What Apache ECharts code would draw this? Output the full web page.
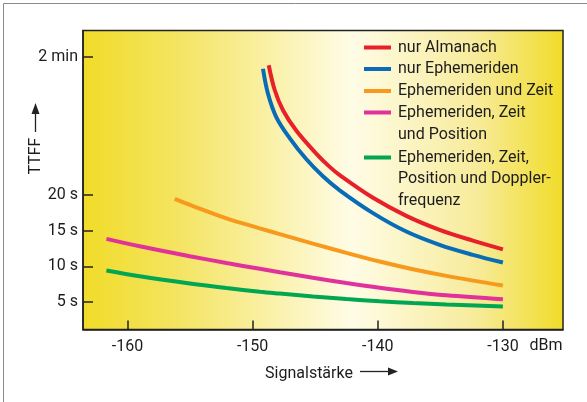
<!DOCTYPE html>
<html><head><meta charset="utf-8">
<script src="https://cdn.jsdelivr.net/npm/echarts@6/dist/echarts.min.js"></script>
<style>html,body{margin:0;padding:0;background:#fff}#c{width:587px;height:402px}</style>
</head><body><div id="c"></div>
<script>
// ---- data (x in dBm, TTFF in seconds) ----
const seriesNames = ['nur Almanach', 'nur Ephemeriden', 'Ephemeriden und Zeit', 'Ephemeriden, Zeit\nund Position', 'Ephemeriden, Zeit,\nPosition und Doppler-\nfrequenz'];
const xRed = [-148.71, -148.24, -147.57, -146.50, -144.90, -143.84, -143.04, -140.38, -137.72, -135.06, -132.40, -130];
const tRed = [114.07, 96.27, 81.38, 66.49, 49.78, 40.30, 34.30, 19.58, 17.06, 15.10, 13.59, 12.37];
const xBlue = [-149.17, -148.77, -148.10, -147.04, -145.70, -144.38, -143.04, -140.38, -137.72, -135.06, -132.40, -130];
const tBlue = [111.53, 93.37, 76.30, 61.19, 45.79, 33.44, 23.27, 17.44, 14.86, 13.00, 11.60, 10.52];
const xOrange = [-156.22, -154.76, -152.09, -149.43, -147.83, -145.18, -142.51, -139.85, -137.19, -134.52, -130];
const tOrange = [19.44, 18.43, 16.71, 15.31, 14.50, 13.17, 11.88, 10.66, 9.58, 8.66, 7.30];
const xMagenta = [-161.68, -159.02, -155.02, -152.09, -149.43, -147.83, -145.18, -142.51, -139.85, -137.19, -134.52, -130];
const tMagenta = [13.84, 12.80, 11.41, 10.46, 9.64, 9.16, 8.39, 7.66, 6.99, 6.41, 5.95, 5.39];
const xGreen = [-161.68, -159.02, -155.02, -152.09, -149.43, -147.83, -145.18, -142.51, -139.85, -137.19, -134.52, -130];
const tGreen = [9.40, 8.60, 7.59, 6.95, 6.44, 6.18, 5.77, 5.41, 5.11, 4.86, 4.65, 4.36];
const yTickSeconds = [5, 10, 15, 20, 120];
const yTickLabels = ['5 s', '10 s', '15 s', '20 s', '2 min'];
const xTicks = [-160, -150, -140, -130];

// broken TTFF axis: linear up to 20 s, compressed above
const f = t => t <= 20 ? t : 20 + (t - 20) * 0.1928;
const FONT = 'Roboto';
const FS = 16;
const INK = '#1c1c1c';
const colors = ['#e8202a', '#0a6cb6', '#f7991c', '#e0329a', '#00a651'];
const xs = [xRed, xBlue, xOrange, xMagenta, xGreen];
const ts = [tRed, tBlue, tOrange, tMagenta, tGreen];
const rowY = [47.5, 69, 91, 112.5, 157.5];

const chart = echarts.init(document.getElementById('c'));
const tickVals = yTickSeconds.map(f);
const txt = (s, x, y, align) => ({type: 'text', x: x, y: y, style: {text: s, font: FS + 'px "' + FONT + '"', fill: INK, align: align || 'left', verticalAlign: 'middle'}});
chart.setOption({
  animation: false,
  color: colors,
  grid: {left: 83, right: 24, top: 30.5, bottom: 72.5, show: true, borderColor: '#222', borderWidth: 1.5,
    backgroundColor: new echarts.graphic.LinearGradient(0, 0, 1, 0, [
      {offset: 0, color: '#f1dc28'}, {offset: 0.2, color: '#f4e462'}, {offset: 0.56, color: '#fffce6'},
      {offset: 0.82, color: '#f7eb9a'}, {offset: 1, color: '#f1dc28'}])},
  xAxis: {type: 'value', min: -163.55, max: -125.2,
    name: 'Signalstärke', nameLocation: 'middle', nameGap: 36, nameMoveOverlap: false,
    nameTextStyle: {fontFamily: FONT, fontSize: FS, color: INK, padding: [0, 28, 0, 0]},
    axisLine: {show: true, lineStyle: {color: '#222', width: 1.5}},
    axisTick: {show: true, inside: true, length: 9, customValues: xTicks, lineStyle: {color: '#222', width: 1.5}},
    axisLabel: {customValues: xTicks, margin: 9, fontFamily: FONT, fontSize: FS, color: INK, formatter: v => String(v)},
    splitLine: {show: false}},
  yAxis: {type: 'value', min: 1.15, max: 43.0,
    name: 'TTFF', nameLocation: 'middle', nameGap: 39, nameRotate: 90, nameMoveOverlap: false,
    nameTextStyle: {fontFamily: FONT, fontSize: FS, color: INK, padding: [0, 0, 0, 48]},
    axisLine: {show: true, lineStyle: {color: '#222', width: 1.5}},
    axisTick: {show: true, inside: true, length: 10, customValues: tickVals, lineStyle: {color: '#222', width: 1.5}},
    axisLabel: {customValues: tickVals, margin: 5, fontFamily: FONT, fontSize: FS, color: INK,
      formatter: v => { let i = tickVals.findIndex(t => Math.abs(t - v) < 1e-6); return i >= 0 ? yTickLabels[i] : ''; }},
    splitLine: {show: false}},
  legend: seriesNames.map((n, i) => ({
    data: [n], left: 364, top: rowY[i] - 10, padding: 0, orient: 'vertical', selectedMode: false,
    icon: 'rect', itemWidth: 27, itemHeight: 4,
    formatter: name => name.split('\n')[0],
    textStyle: {fontFamily: FONT, fontSize: FS, color: INK, lineHeight: 20, padding: [0, 0, 0, 2]}
  })),
  series: seriesNames.map((n, i) => ({
    name: n, type: 'line', smooth: 0.35, showSymbol: false, silent: true,
    lineStyle: {width: 4, color: colors[i], cap: 'butt'},
    data: xs[i].map((x, j) => [x, f(ts[i][j])])
  })),
  graphic: [
    {type: 'rect', shape: {x: 3.5, y: 3.5, width: 700, height: 500}, style: {fill: null, stroke: '#8a8a8a', lineWidth: 1}, z: -1},
    txt('und Position', 398, 134.5),
    txt('Position und Doppler-', 398, 179),
    txt('frequenz', 398, 201),
    txt('dBm', 546, 346, 'center'),
    {type: 'line', shape: {x1: 360, y1: 371.5, x2: 390, y2: 371.5}, style: {stroke: '#222', lineWidth: 1.3}},
    {type: 'polygon', shape: {points: [[388, 367.5], [398, 371.5], [388, 375.5]]}, style: {fill: '#222'}},
    {type: 'line', shape: {x1: 35.5, y1: 132, x2: 35.5, y2: 112}, style: {stroke: '#222', lineWidth: 1.3}},
    {type: 'polygon', shape: {points: [[31.5, 114], [35.5, 103], [39.5, 114]]}, style: {fill: '#222'}}
  ]
});
</script></body></html>
